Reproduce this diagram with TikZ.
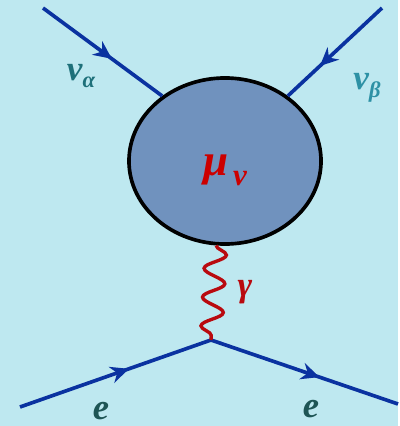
\documentclass[tikz,border=0pt]{standalone}
\usepackage{fontspec}
\setmainfont{Liberation Serif}
\usetikzlibrary{shapes.geometric,arrows.meta,decorations.markings,decorations.pathmorphing}
\definecolor{bgblue}{RGB}{190,232,240}
\definecolor{blobfill}{RGB}{112,146,190}
\definecolor{lineblue}{RGB}{10,50,160}
\definecolor{photonred}{RGB}{185,10,15}
\definecolor{nuAcol}{RGB}{30,112,122}
\definecolor{nuBcol}{RGB}{45,145,165}
\definecolor{ecol}{RGB}{30,85,85}
\begin{document}
\begin{tikzpicture}[x=0.025cm,y=-0.025cm,
  fermion/.style={draw=lineblue,line width=2.6pt,postaction={decorate},
    decoration={markings,mark=at position #1 with {\arrow{Stealth[length=13pt,width=12pt]}}}},
  photon/.style={draw=photonred,line width=2.4pt,decorate,
    decoration={snake,segment length=0.72cm,amplitude=0.27cm}},
  lbl/.style={inner sep=0pt,font=\bfseries\itshape}]
  % background
  \fill[bgblue] (0,0) rectangle (398,426);
  % effective vertex
  \node[ellipse,draw=black,fill=blobfill,line width=2.6pt,
    minimum width=4.8cm,minimum height=4.15cm] (blob) at (225,161) {};
  \node[lbl,text=red!80!black] (mu) at (225,170)
    {\fontsize{32}{32}\selectfont μ{\fontsize{22}{22}\selectfont\raisebox{-7pt}{\,ν}}};
  % external lines
  \coordinate (nuAin) at (43,8);
  \coordinate (nuBin) at (382,8);
  \coordinate (eIn) at (20,407);
  \coordinate (vtx) at (211,340);
  \coordinate (eOut) at (398,404);
  \draw[fermion=0.58] (nuAin) -- (blob.134);
  \draw[fermion=0.66] (nuBin) -- (blob.46);
  \draw[fermion=0.57] (eIn) -- (vtx);
  \draw[fermion=0.58] (vtx) -- (eOut);
  \draw[photon] (blob.264) -- (vtx);
  % labels
  \node[lbl,text=nuAcol] (nuAlbl) at (81,76)
    {\fontsize{25}{25}\selectfont ν{\fontsize{16}{16}\selectfont\raisebox{-5pt}{α}}};
  \node[lbl,text=nuBcol] (nuBlbl) at (367,88)
    {\fontsize{25}{25}\selectfont ν{\fontsize{16}{16}\selectfont\raisebox{-6pt}{β}}};
  \node[lbl,text=photonred] (gam) at (245,292) {\fontsize{25}{25}\selectfont γ};
  \node[lbl,text=ecol] (eAlbl) at (101,411) {\fontsize{26}{26}\selectfont e};
  \node[lbl,text=ecol] (eBlbl) at (311,409) {\fontsize{26}{26}\selectfont e};
\end{tikzpicture}
\end{document}
